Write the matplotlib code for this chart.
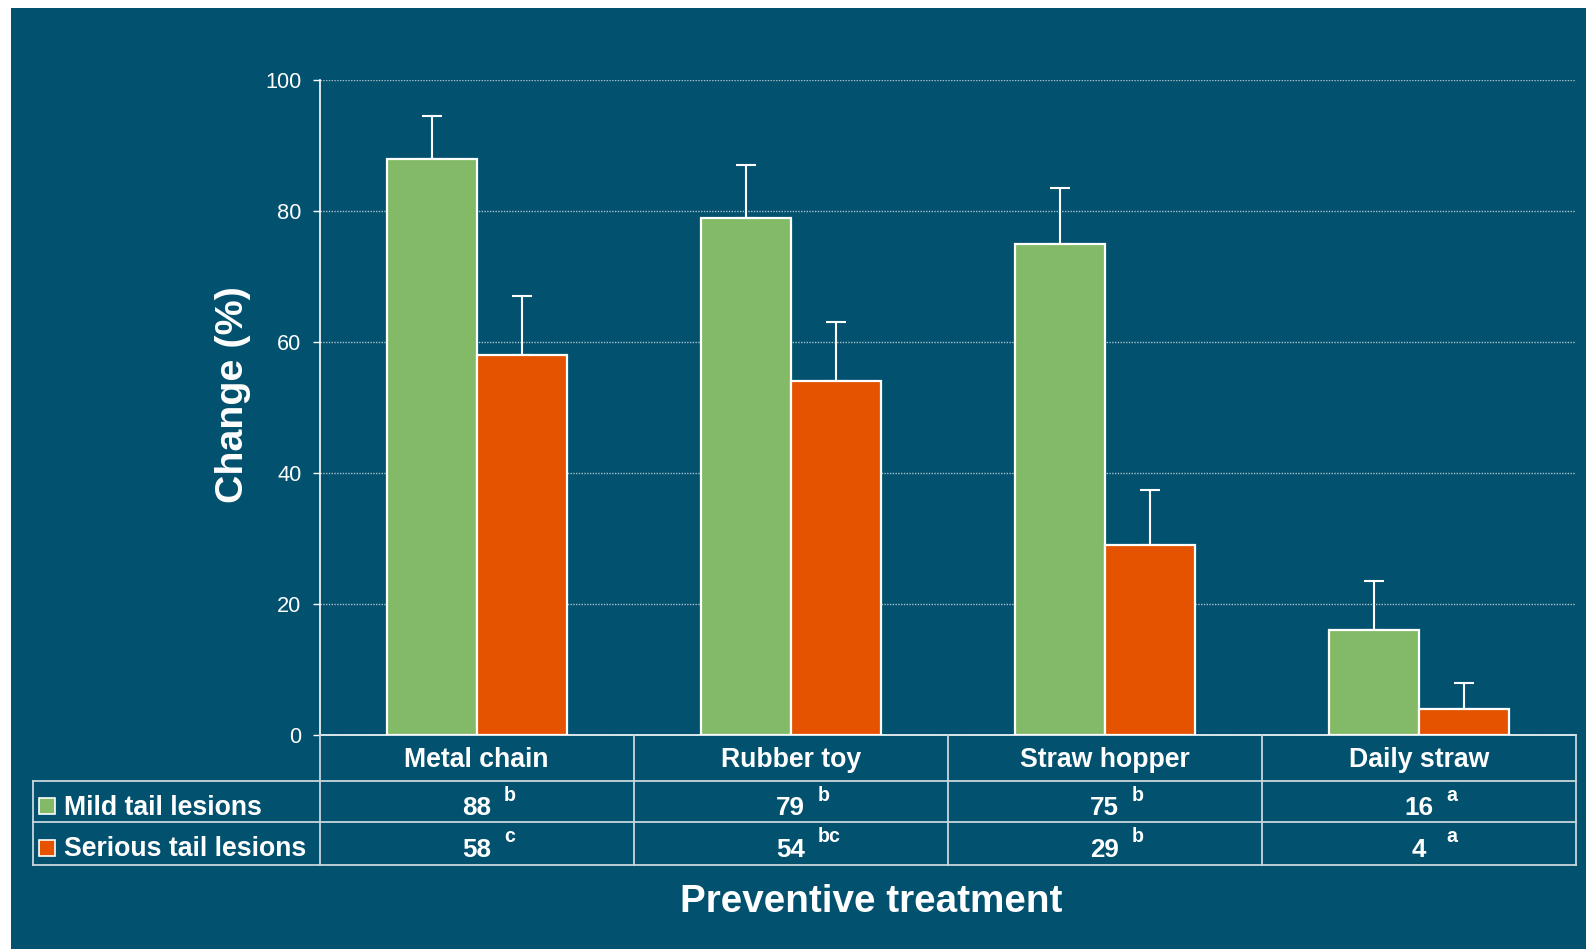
import matplotlib
matplotlib.use("Agg")
import numpy as np
from matplotlib import pyplot as plt
from matplotlib import transforms as mtransforms
from matplotlib.lines import Line2D
from matplotlib.patches import Rectangle

# datos
categorias = ["Metal chain", "Rubber toy", "Straw hopper", "Daily straw"]
series = ["Mild tail lesions", "Serious tail lesions"]
leve = [88, 79, 75, 16]
grave = [58, 54, 29, 4]
err_leve = [6.5, 8, 8.5, 7.5]
err_grave = [9, 9, 8.5, 4]
letras_leve = ["b", "b", "b", "a"]
letras_grave = ["c", "bc", "b", "a"]
yticks = [0, 20, 40, 60, 80, 100]

W, H = 1586, 949
S = W / 1568  # medidas tomadas sobre la imagen reducida
fondo = "#02516F"
verde = "#82BA67"
naranja = "#E55300"
linea_tabla = "#C9D6DE"
plt.rcParams['font.family'] = ['Liberation Sans', 'DejaVu Sans']

fig = plt.figure(figsize=(W / 100, H / 100), dpi=100, facecolor="white")
# fondo azul (borde blanco arriba e izquierda)
fig.add_artist(Rectangle((11 / W, 0), 1, 1 - 8 / H, transform=fig.transFigure,
                         facecolor=fondo, edgecolor="none", zorder=-10))

def fx(px):
    return px * S / W

def fy(py):
    return 1 - py * S / H

x0, x1, ytop, ybot = 316, 1558, 79, 727
ax = fig.add_axes([fx(x0), fy(ybot), fx(x1) - fx(x0), fy(ytop) - fy(ybot)])
ax.set_facecolor(fondo)

x = np.arange(len(categorias))
w = 0.287
ax.bar(x - w / 2, leve, w, color=verde, edgecolor="white", linewidth=1.6, zorder=3)
ax.bar(x + w / 2, grave, w, color=naranja, edgecolor="white", linewidth=1.6, zorder=3)
ax.errorbar(x - w / 2, leve, yerr=[np.zeros(4), err_leve], fmt="none", ecolor="white",
            elinewidth=1.5, capsize=7, capthick=1.5, zorder=2)
ax.errorbar(x + w / 2, grave, yerr=[np.zeros(4), err_grave], fmt="none", ecolor="white",
            elinewidth=1.5, capsize=7, capthick=1.5, zorder=2)

ax.set_xlim(-0.5, 3.5)
ax.set_ylim(0, 100)
ax.set_yticks(yticks)
ax.set_xticks([])
ax.tick_params(axis="y", colors="white", labelcolor="white", labelsize=15.5 * S,
               length=5, width=1, pad=8)
for s in ["top", "right"]:
    ax.spines[s].set_visible(False)
for s in ["left", "bottom"]:
    ax.spines[s].set_color("white")
    ax.spines[s].set_linewidth(1.2)
ax.yaxis.grid(True, color="#A9BFCA", linestyle=(0, (1, 1)), linewidth=1, zorder=0)
ax.set_axisbelow(True)

fig.text(fx(230), fy(390), "Change (%)", rotation=90, color="white", fontsize=28 * S,
         fontweight="bold", ha="center", va="center")

# tabla debajo del eje
filas_y = [727, 772, 813, 855]
bordes = [x0 + i * (x1 - x0) / 4 for i in range(5)]
for py in filas_y[1:]:
    fig.add_artist(Line2D([fx(33), fx(x1)], [fy(py), fy(py)], color=linea_tabla, lw=1.3))
for px in bordes:
    fig.add_artist(Line2D([fx(px), fx(px)], [fy(727), fy(855)], color=linea_tabla, lw=1.3))
fig.add_artist(Line2D([fx(33), fx(33)], [fy(772), fy(855)], color=linea_tabla, lw=1.3))

tr = mtransforms.blended_transform_factory(ax.transData, fig.transFigure)
tr_l = mtransforms.offset_copy(tr, fig=fig, x=27 * S, y=13 * S, units="dots")
for i, cat in enumerate(categorias):
    fig.text(x[i], fy(751), cat, transform=tr, color="white", fontsize=19 * S,
             fontweight="bold", ha="center", va="center")
    for valores, letras, py in [(leve, letras_leve, 799), (grave, letras_grave, 840)]:
        fig.text(x[i], fy(py), str(valores[i]), transform=tr, color="white",
                 fontsize=18.5 * S, fontweight="bold", ha="center", va="center")
        fig.text(x[i], fy(py), letras[i], transform=tr_l, color="white", fontsize=14 * S,
                 fontweight="bold", ha="left", va="center")

for nombre, color, py in [(series[0], verde, 797), (series[1], naranja, 838)]:
    fig.add_artist(Rectangle((fx(39), fy(py + 8)), fx(15), 16 * S / H,
                             transform=fig.transFigure, facecolor=color,
                             edgecolor="white", lw=1.2))
    fig.text(fx(63), fy(py + 1.5), nombre, color="white", fontsize=19 * S,
             fontweight="bold", ha="left", va="center")

fig.text(fx(861), fy(892), "Preventive treatment", color="white", fontsize=27.5 * S,
         fontweight="bold", ha="center", va="center")

fig.savefig("out.png", dpi=100, facecolor="white")
